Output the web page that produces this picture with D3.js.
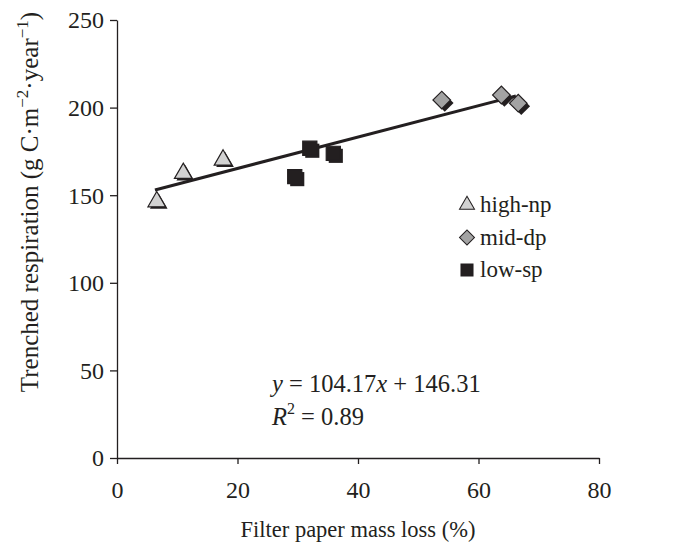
<!DOCTYPE html>
<html><head><meta charset="utf-8">
<script src="https://cdn.jsdelivr.net/npm/d3@7"></script>
<style>body{margin:0;background:#fff}svg{display:block}text{font-family:"Liberation Serif","Times New Roman",serif;fill:#231f20}</style>
</head><body><svg id="c" width="691" height="546"></svg>
<script>
const xTicks=[0,20,40,60,80];
const yTicks=[0,50,100,150,200,250];
const highNpX=[6.6,11.0,17.6];
const highNpY=[146.3,162.5,170.1];
const lowSpX=[29.5,32.0,35.9];
const lowSpY=[160.6,176.8,173.9];
const midDpX=[53.9,63.8,66.6];
const midDpY=[204.3,207.2,202.5];
const trendX=[6.3,66.2];
const trendY=[153.0,206.6];
const legendLabels=["high-np","mid-dp","low-sp"];

const ink="#231f20";
const svg=d3.select("#c");
svg.append("rect").attr("width",691).attr("height",546).attr("fill","#fff");
const x=d3.scaleLinear().domain([0,80]).range([117,599]);
const y=d3.scaleLinear().domain([0,250]).range([458,20]);

const xa=svg.append("g").attr("transform","translate(0,458)").call(d3.axisBottom(x).tickValues(xTicks).tickSize(6).tickPadding(17).tickSizeOuter(0));
const ya=svg.append("g").attr("transform","translate(117,0)").call(d3.axisLeft(y).tickValues(yTicks).tickSize(7).tickPadding(6).tickSizeOuter(0));
[xa,ya].forEach(a=>{a.selectAll("path,line").attr("stroke",ink).attr("stroke-width",1.3);a.selectAll("text").attr("font-size",24).attr("font-family","Liberation Serif").attr("fill",ink);});
ya.selectAll("text").attr("dy","0.33em");

svg.append("text").attr("x",358).attr("y",537).attr("text-anchor","middle").attr("font-size",22.5).text("Filter paper mass loss (%)");
const yt=svg.append("text").attr("transform","translate(38,202) rotate(-90)").attr("text-anchor","middle").attr("font-size",25);
yt.append("tspan").text("Trenched respiration (g C·m");
yt.append("tspan").attr("dy",-10).attr("font-size",17).text("−2");
yt.append("tspan").attr("dy",10).text("·year");
yt.append("tspan").attr("dy",-10).attr("font-size",17).text("−1");
yt.append("tspan").attr("dy",10).text(")");

// trendline
svg.append("line").attr("x1",x(trendX[0])).attr("y1",y(trendY[0])).attr("x2",x(trendX[1])).attr("y2",y(trendY[1])).attr("stroke",ink).attr("stroke-width",3);

const tri=d3.symbol().type(d3.symbolTriangle).size(135)();
const sq=d3.symbol().type(d3.symbolSquare).size(200)();
const dia=d3.symbol().type(d3.symbolSquare).size(155)();

function series(xs,ys,path,fill,rot,off){
  const g=svg.append("g");
  xs.forEach((v,i)=>{
    g.append("path").attr("d",path).attr("fill",ink).attr("transform",`translate(${x(v)+off},${y(ys[i])+off}) rotate(${rot})`);
    g.append("path").attr("d",path).attr("fill",fill).attr("stroke",ink).attr("stroke-width",1.2).attr("transform",`translate(${x(v)},${y(ys[i])}) rotate(${rot})`);
  });
}
series(highNpX,highNpY,tri,"#d2d2d2",0,2);
series(midDpX,midDpY,dia,"#a3a3a3",45,3);
series(lowSpX,lowSpY,sq,ink,0,2.5);

// legend
const lg=svg.append("g");
const lpaths=[[tri,"#d2d2d2",0],[dia,"#a3a3a3",45],[sq,ink,0]];
legendLabels.forEach((t,i)=>{
  const cy=205+i*32.5;
  lg.append("path").attr("d",lpaths[i][0]).attr("fill",lpaths[i][1]).attr("stroke",ink).attr("stroke-width",1.2).attr("transform",`translate(467,${cy}) rotate(${lpaths[i][2]}) scale(0.85)`);
  lg.append("text").attr("x",480).attr("y",cy+7).attr("font-size",23).text(t);
});

// equation
const e1=svg.append("text").attr("x",272).attr("y",392).attr("font-size",24.5);
e1.append("tspan").attr("font-style","italic").text("y");
e1.append("tspan").text(" = 104.17");
e1.append("tspan").attr("font-style","italic").text("x");
e1.append("tspan").text(" + 146.31");
const e2=svg.append("text").attr("x",272).attr("y",425).attr("font-size",24.5);
e2.append("tspan").attr("font-style","italic").text("R");
e2.append("tspan").attr("dy",-11).attr("font-size",16).text("2");
e2.append("tspan").attr("dy",11).text(" = 0.89");
</script></body></html>
